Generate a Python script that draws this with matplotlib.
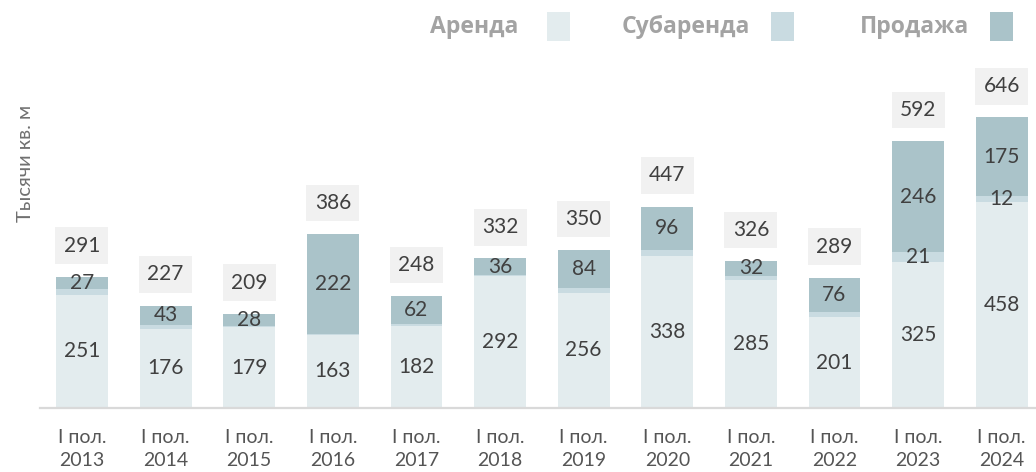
import matplotlib
matplotlib.use("Agg")
import matplotlib.pyplot as plt
from matplotlib.patches import Rectangle

years = ["2013", "2014", "2015", "2016", "2017", "2018", "2019", "2020", "2021", "2022", "2023", "2024"]
tick_labels = ["I пол.\n" + y for y in years]
rent = [251, 176, 179, 163, 182, 292, 256, 338, 285, 201, 325, 458]
sublease = [13, 8, 2, 1, 4, 4, 10, 13, 9, 12, 21, 12]
sale = [27, 43, 28, 222, 62, 36, 84, 96, 32, 76, 246, 175]
totals = [291, 227, 209, 386, 248, 332, 350, 447, 326, 289, 592, 646]
sublease_labeled = [False] * 10 + [True, True]

series_names = ["Аренда", "Субаренда", "Продажа"]
colors = ["#e3ecee", "#c9dbe1", "#aac3c9"]

plt.rcParams['font.family'] = ['Lato', 'DejaVu Sans']

W, H = 1036, 472
fig = plt.figure(figsize=(W / 100, H / 100), dpi=100)
ax = fig.add_axes([40 / W, 64 / H, 1 - 40 / W, 408 / H])

x = list(range(len(years)))
bw = 0.62
ax.bar(x, rent, bw, color=colors[0], zorder=2)
bottom3 = [r + s for r, s in zip(rent, sublease)]
ax.bar(x, sublease, bw, bottom=rent, color=colors[1], zorder=2)
ax.bar(x, sale, bw, bottom=bottom3, color=colors[2], zorder=2)

txt_color = "#404040"
fs = 15
for i in x:
    ax.text(i, rent[i] / 2, str(rent[i]), ha="center", va="center", fontsize=fs, color=txt_color, zorder=3)
    ax.text(i, bottom3[i] + sale[i] / 2, str(sale[i]), ha="center", va="center", fontsize=fs, color=txt_color, zorder=3)
    if sublease_labeled[i]:
        ax.text(i, rent[i] + sublease[i] / 2, str(sublease[i]), ha="center", va="center", fontsize=fs, color=txt_color, zorder=3)
    top = bottom3[i] + sale[i]
    ax.annotate(str(totals[i]), (i, top), xytext=(0, 22.5), textcoords="offset points",
                ha="center", va="center", fontsize=fs, color=txt_color, zorder=3,
                bbox=dict(boxstyle="square,pad=0.4", fc="#f1f1f1", ec="none"))

ax.set_xlim(-0.502, 11.41)
ax.set_ylim(0, 408 / (291 / 646))
ax.set_xticks(x)
ax.set_xticklabels(tick_labels, fontsize=14, color="#555555", linespacing=1.45)
ax.tick_params(axis="x", length=0, pad=15)
ax.set_yticks([])
for s in ["top", "right", "left"]:
    ax.spines[s].set_visible(False)
ax.spines["bottom"].set_color("#d9d9d9")
ax.spines["bottom"].set_linewidth(1.6)

fig.text(26 / W, 1 - 163 / H, "Тысячи кв. м", rotation=90, ha="center", va="center",
         fontsize=14.5, color="#707070")

# legend
leg_items = [(430, 547), (622, 771), (860, 990)]
for name, col, (tx, px) in zip(series_names, colors, leg_items):
    fig.text(tx / W, 1 - 27 / H, name, ha="left", va="center", fontsize=16.6,
             fontweight="bold", color="#a3a3a3", family=["Open Sans", "DejaVu Sans"])
    fig.patches.append(Rectangle((px / W, 1 - 41 / H), 23 / W, 29 / H, transform=fig.transFigure,
                                 facecolor=col, edgecolor="none"))

fig.savefig("out.png", dpi=100)
